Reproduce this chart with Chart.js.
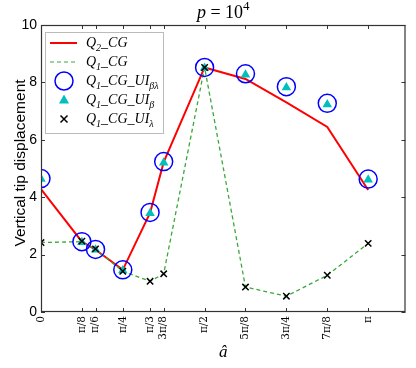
<!DOCTYPE html>
<html>
<head>
<meta charset="utf-8">
<script src="https://cdn.jsdelivr.net/npm/chart.js@4/dist/chart.umd.min.js"></script>
<style>
  html, body { margin: 0; padding: 0; background: #fff; }
  #wrap { width: 416px; height: 368px; position: relative; }
  #ylabel {
    position: absolute; left: 20px; top: 163px; width: 260px; margin-left: -130px;
    text-align: center; font: 15.5px 'Liberation Sans', Arial, sans-serif; line-height: 18px;
    margin-top: -9px; transform: rotate(-90deg); color: #000; white-space: nowrap;
  }
</style>
</head>
<body>
<div id="wrap">
  <canvas id="c" width="416" height="368"></canvas>
  <div id="ylabel">Vertical tip displacement</div>
</div>
<script>
"use strict";

// angles as fractions of pi, and their tick labels
const angleFrac = [0, 1 / 8, 1 / 6, 1 / 4, 1 / 3, 3 / 8, 1 / 2, 5 / 8, 3 / 4, 7 / 8, 1];
const tickLabels = ["0", "π/8", "π/6", "π/4", "π/3", "3π/8", "π/2", "5π/8", "3π/4", "7π/8", "π"];
const yTicks = [0, 2, 4, 6, 8, 10];

// series values
const q2CG = [4.28, 2.45, 2.17, 1.47, 3.45, 5.22, 8.52, 8.12, 7.30, 6.45, 4.25];
const q1CG = [2.42, 2.45, 2.18, 1.42, 1.07, 1.33, 8.52, 0.87, 0.55, 1.28, 2.39];
const uiBetaLambda = [4.65, 2.45, 2.18, 1.47, 3.47, 5.24, 8.52, 8.30, 7.85, 7.27, 4.63];
const uiBeta = [4.63, 2.43, 2.17, 1.45, 3.44, 5.20, 8.50, 8.27, 7.82, 7.23, 4.61];
const uiLambda = [2.42, 2.47, 2.20, 1.42, 1.07, 1.33, 8.52, 0.87, 0.55, 1.28, 2.39];

const xs = angleFrac.map((f) => f * Math.PI);
const pts = (arr) => arr.map((v, i) => ({ x: xs[i], y: v }));

const RED = "#ff0000";
const GREEN = "#3aa83a";
const BLUE = "#0000ff";
const CYAN = "#00bfbf";
const SERIF = "'Liberation Serif', 'DejaVu Serif', serif";
const SANS = "'Liberation Sans', Arial, sans-serif";

// legend: each label is a list of [text, kind] pieces
const legendLabels = [
  [["Q", ""], ["2", "sub"], ["_CG", ""]],
  [["Q", ""], ["1", "sub"], ["_CG", ""]],
  [["Q", ""], ["1", "sub"], ["_CG_UI", ""], ["βλ", "sub"]],
  [["Q", ""], ["1", "sub"], ["_CG_UI", ""], ["β", "sub"]],
  [["Q", ""], ["1", "sub"], ["_CG_UI", ""], ["λ", "sub"]],
];
const titleParts = [["p", ""], [" = 10", "up"], ["4", "sup"]];

function fontFor(kind, size) {
  const s = kind === "sub" || kind === "sup" ? Math.round(size * 0.7) : size;
  return (kind === "up" || kind === "sup" ? "" : "italic ") + s + "px " + SERIF;
}

function richWidth(ctx, parts, size) {
  let w = 0;
  for (const [t, kind] of parts) {
    ctx.font = fontFor(kind, size);
    w += ctx.measureText(t).width;
  }
  return w;
}

function drawRich(ctx, parts, x, y, size) {
  ctx.textBaseline = "alphabetic";
  ctx.textAlign = "left";
  for (const [t, kind] of parts) {
    ctx.font = fontFor(kind, size);
    let dy = 0;
    if (kind === "sub") dy = size * 0.25;
    if (kind === "sup") dy = -size * 0.42;
    ctx.fillText(t, x, y + dy);
    x += ctx.measureText(t).width;
  }
}

// frame, inward ticks, legend, title and x label
const decor = {
  id: "decor",
  afterDraw(chart) {
    const { ctx, chartArea: ca, scales } = chart;
    ctx.save();

    ctx.strokeStyle = "#333";
    ctx.lineWidth = 1.2;
    ctx.strokeRect(ca.left + 0.5, ca.top + 0.5, ca.right - ca.left - 1, ca.bottom - ca.top - 1);

    ctx.lineWidth = 1;
    ctx.beginPath();
    for (const v of xs) {
      const px = Math.round(scales.x.getPixelForValue(v)) + 0.5;
      ctx.moveTo(px, ca.bottom); ctx.lineTo(px, ca.bottom - 4);
      ctx.moveTo(px, ca.top); ctx.lineTo(px, ca.top + 4);
    }
    for (const v of yTicks) {
      const py = Math.round(scales.y.getPixelForValue(v)) + 0.5;
      ctx.moveTo(ca.left, py); ctx.lineTo(ca.left + 4, py);
      ctx.moveTo(ca.right, py); ctx.lineTo(ca.right - 4, py);
    }
    ctx.stroke();

    // legend box
    ctx.fillStyle = "#fff";
    ctx.fillRect(45.5, 32.5, 118, 101);
    ctx.strokeStyle = "#bbb";
    ctx.strokeRect(45.5, 32.5, 118, 101);
    const rows = [43, 62, 81, 100, 119];
    const sx0 = 50, sx1 = 77, cx = 64;
    ctx.lineWidth = 2; ctx.strokeStyle = RED;
    ctx.beginPath(); ctx.moveTo(sx0, rows[0]); ctx.lineTo(sx1, rows[0]); ctx.stroke();
    ctx.lineWidth = 1.2; ctx.strokeStyle = GREEN; ctx.setLineDash([4, 3]);
    ctx.beginPath(); ctx.moveTo(sx0, rows[1]); ctx.lineTo(sx1, rows[1]); ctx.stroke();
    ctx.setLineDash([]);
    ctx.lineWidth = 1.5; ctx.strokeStyle = BLUE;
    ctx.beginPath(); ctx.arc(cx, rows[2], 9, 0, Math.PI * 2); ctx.stroke();
    ctx.fillStyle = CYAN;
    ctx.beginPath();
    ctx.moveTo(cx, rows[3] - 5.5); ctx.lineTo(cx + 5, rows[3] + 3.5); ctx.lineTo(cx - 5, rows[3] + 3.5);
    ctx.closePath(); ctx.fill();
    ctx.strokeStyle = "#000"; ctx.lineWidth = 1.5;
    ctx.beginPath();
    ctx.moveTo(cx - 3.5, rows[4] - 3.5); ctx.lineTo(cx + 3.5, rows[4] + 3.5);
    ctx.moveTo(cx + 3.5, rows[4] - 3.5); ctx.lineTo(cx - 3.5, rows[4] + 3.5);
    ctx.stroke();
    ctx.fillStyle = "#000";
    legendLabels.forEach((parts, i) => drawRich(ctx, parts, 86, rows[i] + 4, 14));

    // title
    const tw = richWidth(ctx, titleParts, 18);
    drawRich(ctx, titleParts, (ca.left + ca.right) / 2 - tw / 2, 18, 18);

    // x label
    ctx.font = "italic 17px " + SERIF;
    ctx.textAlign = "center";
    ctx.textBaseline = "alphabetic";
    ctx.fillText("â", (ca.left + ca.right) / 2, 357);

    ctx.restore();
  },
};

new Chart(document.getElementById("c"), {
  type: "scatter",
  data: {
    datasets: [
      { label: "Q2_CG", data: pts(q2CG), showLine: true, borderColor: RED, borderWidth: 2,
        pointRadius: 0, order: 5, clip: 0 },
      { label: "Q1_CG", data: pts(q1CG), showLine: true, borderColor: GREEN, borderWidth: 1.3,
        borderDash: [4, 3], pointRadius: 0, order: 4, clip: 0 },
      { label: "Q1_CG_UI_bl", data: pts(uiBetaLambda), showLine: false, pointStyle: "circle",
        pointRadius: 9, pointBorderColor: BLUE, pointBackgroundColor: "rgba(0,0,0,0)",
        pointBorderWidth: 1.5, order: 3, clip: 0 },
      { label: "Q1_CG_UI_b", data: pts(uiBeta), showLine: false, pointStyle: "triangle",
        pointRadius: 5.5, pointBorderWidth: 0, pointBackgroundColor: CYAN, pointBorderColor: CYAN,
        order: 2, clip: 0 },
      { label: "Q1_CG_UI_l", data: pts(uiLambda), showLine: false, pointStyle: "crossRot",
        pointRadius: 4.5, pointBorderColor: "#000", pointBorderWidth: 1.5, order: 1, clip: 0 },
    ],
  },
  options: {
    responsive: false,
    animation: false,
    devicePixelRatio: 1,
    layout: { padding: { left: 0, right: 6, top: 25, bottom: 0 } },
    plugins: { legend: { display: false }, tooltip: { enabled: false } },
    scales: {
      x: {
        type: "linear", min: 0, max: 3.5,
        grid: { display: false, drawTicks: false }, border: { display: false },
        afterBuildTicks: (s) => { s.ticks = xs.map((v) => ({ value: v })); },
        afterFit: (s) => { s.height = 56; },
        ticks: {
          autoSkip: false, minRotation: 90, maxRotation: 90, padding: 4, color: "#000",
          font: { family: "'DejaVu Serif', serif", size: 10.5 },
          callback: (v, i) => tickLabels[i],
        },
      },
      y: {
        min: 0, max: 10,
        grid: { display: false, drawTicks: false }, border: { display: false },
        afterBuildTicks: (s) => { s.ticks = yTicks.map((v) => ({ value: v })); },
        afterFit: (s) => { s.width = 41; },
        ticks: { padding: 4, color: "#000", font: { family: SANS, size: 14 } },
      },
    },
  },
  plugins: [decor],
});
</script>
</body>
</html>
